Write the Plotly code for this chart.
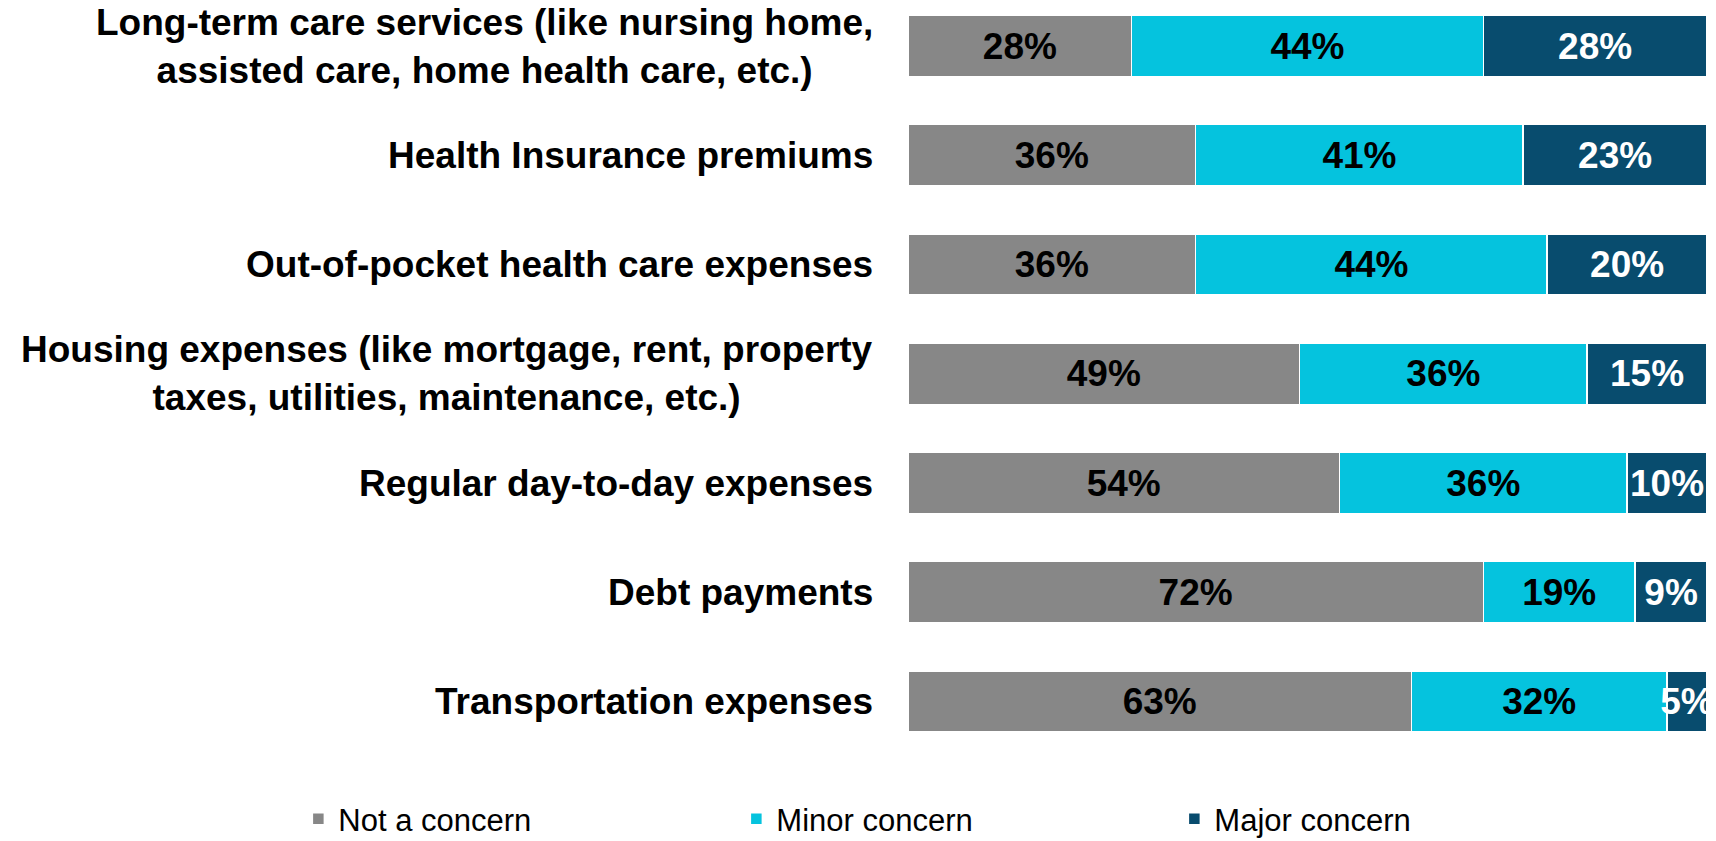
import plotly.graph_objects as go

categories = [
    "Long-term care services (like nursing home,<br>assisted care, home health care, etc.)",
    "Health Insurance premiums",
    "Out-of-pocket health care expenses",
    "Housing expenses (like mortgage, rent, property<br>taxes, utilities, maintenance, etc.)",
    "Regular day-to-day expenses",
    "Debt payments",
    "Transportation expenses",
]
not_concern = [28, 36, 36, 49, 54, 72, 63]
minor_concern = [44, 41, 44, 36, 36, 19, 32]
major_concern = [28, 23, 20, 15, 10, 9, 5]

series = [
    ("Not a concern", not_concern, "#878787", "black"),
    ("Minor concern", minor_concern, "#05C3DE", "black"),
    ("Major concern", major_concern, "#084C6E", "white"),
]

FONT = "Liberation Sans, Arial, Helvetica, sans-serif"

fig = go.Figure()
for name, vals, color, tcol in series:
    fig.add_trace(go.Bar(
        name=name,
        y=categories,
        x=vals,
        orientation="h",
        width=0.56,
        marker=dict(color=color, line=dict(color="white", width=1.5)),
        text=[f"{v}%" for v in vals],
        textposition="inside",
        insidetextanchor="middle",
        textangle=0,
        constraintext="none",
        textfont=dict(family=FONT, size=37, color=tcol, weight="bold"),
        cliponaxis=True,
        hoverinfo="skip",
    ))

for cat in categories:
    fig.add_annotation(
        x=0, xref="paper", y=cat, yref="y",
        text=f"<b>{cat}</b>", showarrow=False,
        xanchor="right", yanchor="middle", align="center",
        xshift=-33,
        font=dict(family=FONT, size=37, color="black"),
    )

fig.update_layout(
    width=1716, height=841,
    margin=dict(l=908, r=9, t=0, b=81, autoexpand=False),
    barmode="stack",
    plot_bgcolor="white", paper_bgcolor="white",
    xaxis=dict(range=[0, 100], visible=False, fixedrange=True),
    yaxis=dict(type="category", categoryorder="array", categoryarray=categories,
               range=[6.535, -0.421], showticklabels=False, showgrid=False,
               zeroline=False, showline=False, ticks="", fixedrange=True),
    showlegend=True,
    legend=dict(
        orientation="h", x=-0.763, xanchor="left", y=-0.0776, yanchor="middle",
        font=dict(family=FONT, size=31, color="black"),
        entrywidth=393, entrywidthmode="pixels",
        traceorder="normal", bgcolor="rgba(0,0,0,0)",
    ),
    font=dict(family=FONT),
)

fig.write_html(
    "out.html",
    config={"displayModeBar": False},
    post_script="document.body.style.margin='0';document.body.style.overflow='hidden';",
)
